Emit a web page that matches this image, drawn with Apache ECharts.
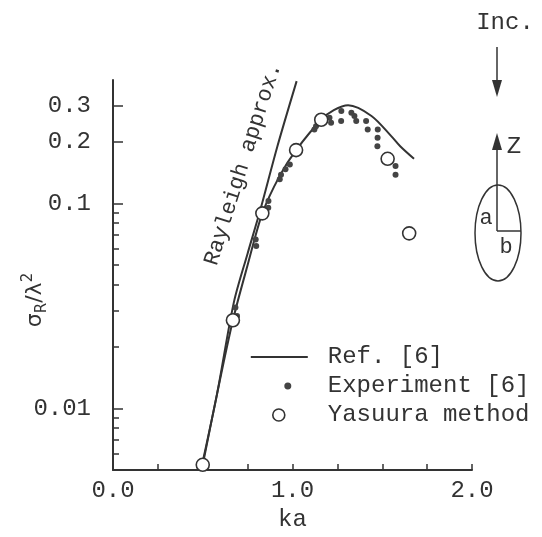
<!DOCTYPE html>
<html>
<head>
<meta charset="utf-8">
<script src="https://cdn.jsdelivr.net/npm/echarts@6/dist/echarts.min.js"></script>
<style>html,body{margin:0;padding:0;background:#fff;}#c{width:542px;height:537px;}</style>
</head>
<body>
<div id="c"></div>
<script>
// ---- data ----
var rayleighKa  = [0.50, 0.58, 0.673, 0.75, 0.819, 0.916, 1.023];
var rayleighVal = [0.0055, 0.0118, 0.0328, 0.057, 0.0917, 0.190, 0.395];

var refKa  = [0.50, 0.58, 0.668, 0.75, 0.832, 0.93, 1.02, 1.16, 1.23, 1.31, 1.44, 1.55, 1.60, 1.677];
var refVal = [0.0053, 0.0118, 0.0269, 0.050, 0.0894, 0.137, 0.182, 0.256, 0.285, 0.301, 0.267, 0.213, 0.190, 0.165];

var expKa  = [0.682, 0.691, 0.795, 0.798, 0.866, 0.865, 0.929, 0.936, 0.961, 0.985, 1.122, 1.131, 1.206, 1.215, 1.272, 1.271, 1.328, 1.345, 1.355, 1.41, 1.419, 1.475, 1.474, 1.473, 1.574, 1.574];
var expVal = [0.031, 0.0282, 0.0667, 0.0619, 0.1026, 0.0953, 0.131, 0.138, 0.1466, 0.155, 0.2296, 0.238, 0.262, 0.2475, 0.282, 0.252, 0.277, 0.267, 0.252, 0.252, 0.2296, 0.2296, 0.209, 0.190, 0.152, 0.138];

var yasKa  = [0.50, 0.668, 0.832, 1.02, 1.16, 1.53, 1.65];
var yasVal = [0.0053, 0.0269, 0.0894, 0.182, 0.256, 0.165, 0.0714];

var xTickLabels = ['0.0', '1.0', '2.0'];
var xLabelValues = [0, 1, 2];
var yLabelValues = [0.01, 0.1, 0.2, 0.3];
var yTickLabels = ['0.01', '0.1', '0.2', '0.3'];
var yMinorValues = [0.006, 0.007, 0.008, 0.009, 0.02, 0.03, 0.04, 0.05, 0.06, 0.07, 0.08, 0.09];

function zip(a, b) { return a.map(function (v, i) { return [v, b[i]]; }); }

var INK = '#333';
var FONT = '"Liberation Mono", "DejaVu Sans Mono", monospace';

var chart = echarts.init(document.getElementById('c'), null, {renderer: 'canvas'});

function yFmt(v) {
  for (var i = 0; i < yLabelValues.length; i++) {
    if (Math.abs(v - yLabelValues[i]) / yLabelValues[i] < 1e-3) return yTickLabels[i];
  }
  return '';
}

// legend icons: a 72x13 frame (degenerate corner points) so every icon keeps its place
var FRAME = 'M0,0L0.01,0Z M72,13L72.01,13Z ';
var iconLine = 'path://' + FRAME + 'M0,5.5L57,5.5L57,7.5L0,7.5Z';
var iconDot = 'path://' + FRAME + 'M33.5,6.5A3.5,3.5 0 1 0 40.5,6.5A3.5,3.5 0 1 0 33.5,6.5Z';
var iconRing = 'path://' + FRAME + 'M22,6.5A6,6 0 1 0 34,6.5A6,6 0 1 0 22,6.5Z';

var option = {
  backgroundColor: '#fff',
  animation: false,
  grid: {left: 113, right: 70, top: 80, bottom: 67, containLabel: false},
  xAxis: {
    type: 'value', min: 0, max: 2, interval: 0.25,
    name: 'ka', nameLocation: 'middle', nameGap: 38,
    nameTextStyle: {fontFamily: FONT, fontSize: 24, color: INK},
    axisLine: {show: true, lineStyle: {color: INK, width: 2}},
    axisTick: {show: true, inside: true, length: 6, lineStyle: {color: INK, width: 1.5}},
    axisLabel: {
      margin: 9, fontFamily: FONT, fontSize: 24, color: INK,
      formatter: function (v) {
        var i = xLabelValues.indexOf(Math.round(v * 1000) / 1000);
        return i >= 0 ? xTickLabels[i] : '';
      }
    },
    splitLine: {show: false}
  },
  yAxis: [{
    type: 'log', logBase: 10, min: 0.005, max: 0.4,
    axisLine: {show: true, lineStyle: {color: INK, width: 2}},
    axisTick: {show: true, inside: true, length: 10, customValues: yLabelValues, lineStyle: {color: INK, width: 1.5}},
    axisLabel: {margin: 22, fontFamily: FONT, fontSize: 24, color: INK, customValues: yLabelValues, formatter: yFmt},
    splitLine: {show: false},
    minorTick: {show: false}
  }, {
    type: 'log', logBase: 10, min: 0.005, max: 0.4,
    axisLine: {show: false},
    axisTick: {show: true, inside: true, length: 6, customValues: yMinorValues, lineStyle: {color: INK, width: 1.5}},
    axisLabel: {show: false},
    splitLine: {show: false},
    position: 'left'
  }],
  legend: {
    left: 250, top: 345, orient: 'vertical', padding: 0, itemGap: 5,
    itemWidth: 72, itemHeight: 13, symbolKeepAspect: true, selectedMode: false,
    textStyle: {fontFamily: FONT, fontSize: 24, color: INK},
    data: [
      {name: 'Ref. [6]', icon: iconLine, itemStyle: {color: INK, borderWidth: 0}},
      {name: 'Experiment [6]', icon: iconDot, itemStyle: {color: '#444', borderWidth: 0}},
      {name: 'Yasuura method', icon: iconRing, itemStyle: {color: '#fff', borderColor: INK, borderWidth: 1.6}}
    ]
  },
  series: [{
    name: 'Rayleigh approx.', type: 'line', smooth: 0.3, symbol: 'none',
    data: zip(rayleighKa, rayleighVal),
    lineStyle: {color: INK, width: 2}, itemStyle: {color: INK}, silent: true
  }, {
    name: 'Ref. [6]', type: 'line', smooth: 0.3, symbol: 'none',
    data: zip(refKa, refVal),
    lineStyle: {color: INK, width: 2}, itemStyle: {color: INK}, silent: true
  }, {
    name: 'Experiment [6]', type: 'scatter', symbol: 'circle', symbolSize: 6,
    data: zip(expKa, expVal),
    itemStyle: {color: '#444', opacity: 1}, z: 3
  }, {
    name: 'Yasuura method', type: 'scatter', symbol: 'circle', symbolSize: 13,
    data: zip(yasKa, yasVal),
    itemStyle: {color: '#fff', borderColor: INK, borderWidth: 1.6, opacity: 1}, z: 4
  }],
  graphic: [
    {type: 'text', x: 243, y: 164, rotation: 72.3 * Math.PI / 180,
     style: {text: 'Rayleigh approx.', font: '22px ' + FONT, fill: INK, align: 'center', verticalAlign: 'middle'}},
    {type: 'text', x: 35, y: 300, rotation: Math.PI / 2,
     style: {text: '{a|σ}{s|R}{a|/λ}{p|2}', fill: INK, align: 'center', verticalAlign: 'middle',
       rich: {
         a: {fontSize: 22, fontFamily: '"DejaVu Sans", sans-serif', fill: INK},
         s: {fontSize: 15, fontFamily: '"DejaVu Sans", sans-serif', fill: INK, padding: [14, 0, 0, 0]},
         p: {fontSize: 15, fontFamily: '"DejaVu Sans", sans-serif', fill: INK, padding: [0, 0, 14, 0]}
       }}},
    // inset diagram
    {type: 'text', x: 505, y: 23, style: {text: 'Inc.', font: '24px ' + FONT, fill: INK, align: 'center', verticalAlign: 'middle'}},
    {type: 'line', shape: {x1: 497, y1: 47, x2: 497, y2: 85}, style: {stroke: INK, lineWidth: 1.5}},
    {type: 'polygon', shape: {points: [[492, 80], [502, 80], [497, 97]]}, style: {fill: INK}},
    {type: 'line', shape: {x1: 497, y1: 145, x2: 497, y2: 231}, style: {stroke: INK, lineWidth: 1.5}},
    {type: 'polygon', shape: {points: [[492, 150], [502, 150], [497, 133]]}, style: {fill: INK}},
    {type: 'text', x: 514, y: 147, style: {text: 'Z', font: '24px ' + FONT, fill: INK, align: 'center', verticalAlign: 'middle'}},
    {type: 'ellipse', shape: {cx: 498, cy: 233, rx: 23, ry: 48}, style: {stroke: INK, lineWidth: 1.5, fill: 'none'}},
    {type: 'line', shape: {x1: 497, y1: 231, x2: 521, y2: 231}, style: {stroke: INK, lineWidth: 1.5}},
    {type: 'text', x: 486, y: 218, style: {text: 'a', font: '22px ' + FONT, fill: INK, align: 'center', verticalAlign: 'middle'}},
    {type: 'text', x: 506, y: 247, style: {text: 'b', font: '22px ' + FONT, fill: INK, align: 'center', verticalAlign: 'middle'}}
  ]
};
chart.setOption(option);
</script>
</body>
</html>
